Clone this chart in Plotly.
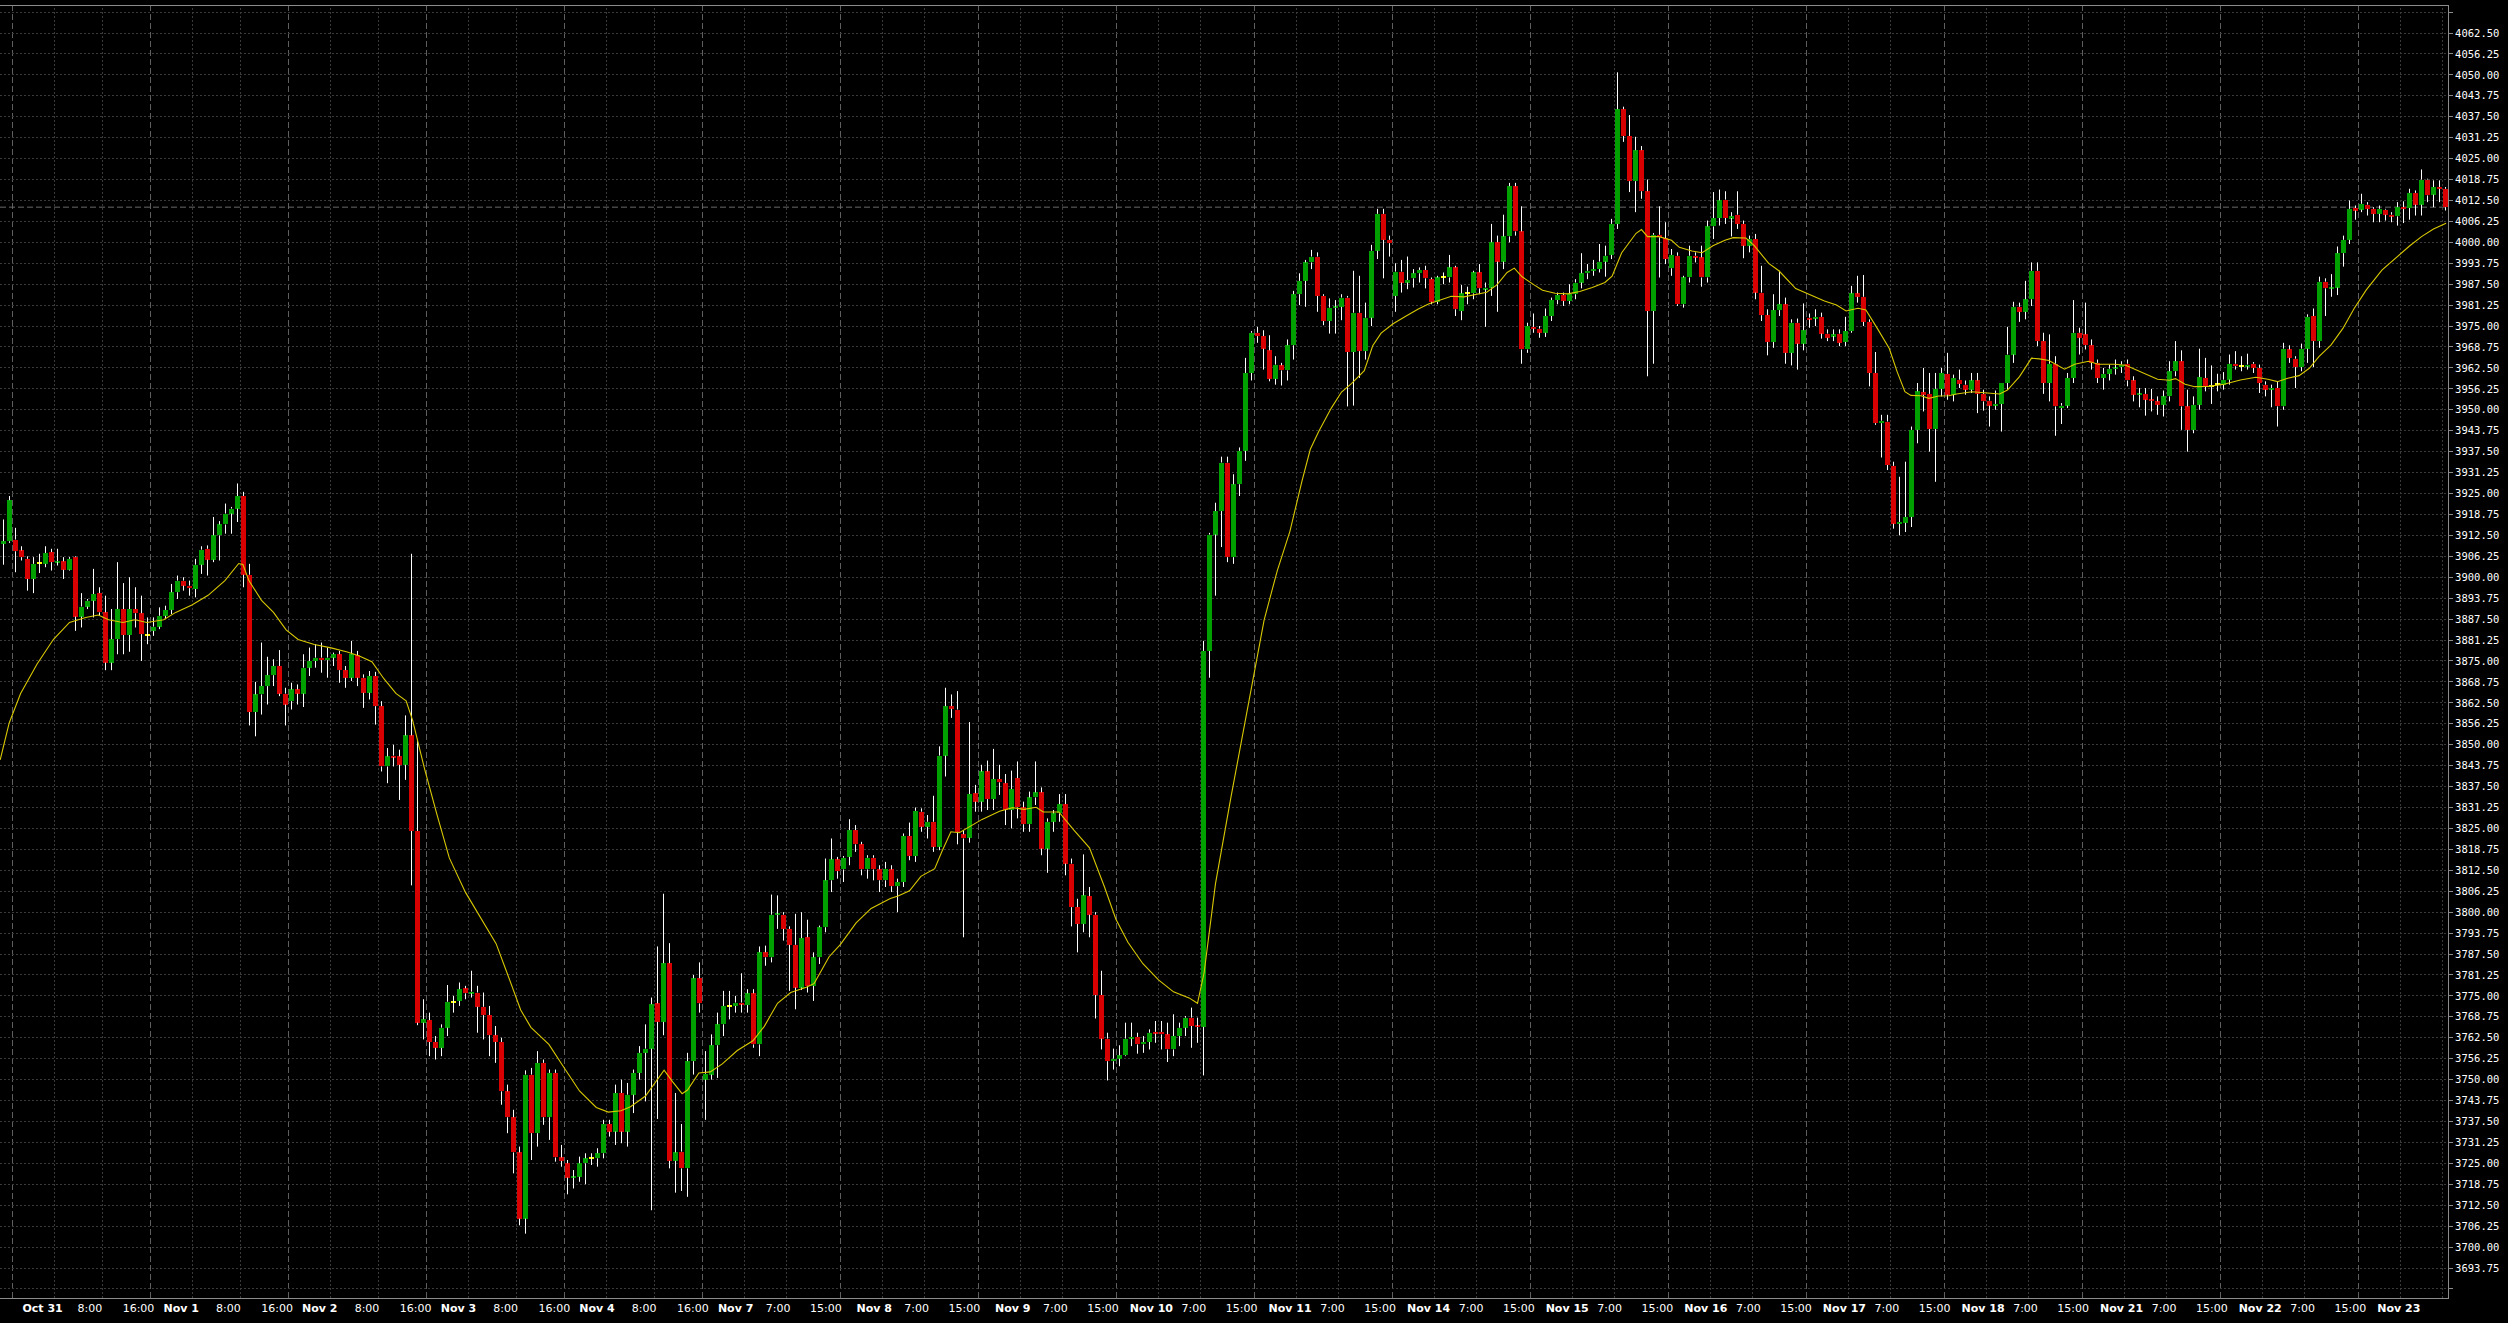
import plotly.graph_objects as go

# ---------------- data (hourly candles) ----------------
opens = [
3910.0,3910.75,3911.25,3908.0,3905.5,3899.5,3904.0,3904.0,3907.5,3904.5,
3904.75,3902.25,3906.0,3888.25,3891.25,3893.0,3895.25,3889.5,3874.5,3881.5,
3890.5,3882.75,3890.5,3889.25,3882.5,3884.0,3885.25,3888.5,3890.25,3895.5,
3899.0,3897.5,3896.5,3903.75,3908.5,3905.25,3912.5,3915.75,3919.0,3920.5,
3924.25,3900.75,3859.75,3865.0,3867.5,3870.75,3873.5,3865.25,3863.0,3866.5,
3865.25,3873.0,3875.0,3876.0,3875.25,3876.0,3877.0,3872.25,3870.0,3876.75,
3870.0,3865.5,3870.5,3861.5,3843.5,3846.75,3846.5,3844.0,3852.75,3824.25,
3767.0,3767.75,3761.25,3759.5,3765.5,3773.0,3773.5,3777.25,3775.75,3776.0,
3771.75,3769.25,3763.25,3761.25,3746.5,3738.75,3728.25,3708.5,3751.5,3734.0,
3755.0,3738.75,3752.0,3726.75,3725.0,3720.75,3721.0,3725.0,3726.5,3726.5,
3728.0,3736.75,3734.5,3746.0,3734.5,3745.5,3752.0,3758.0,3759.25,3772.75,
3767.25,3784.75,3725.75,3728.5,3723.5,3755.5,3780.25,3750.0,3751.5,3760.25,
3766.5,3771.75,3772.0,3773.0,3772.25,3775.75,3760.5,3788.0,3786.5,3799.25,
3799.25,3795.0,3790.25,3777.5,3792.5,3778.0,3786.5,3795.5,3809.5,3815.75,
3812.75,3816.5,3824.5,3820.25,3812.75,3816.25,3812.75,3809.5,3812.75,3807.75,
3809.0,3822.75,3816.75,3830.0,3825.5,3827.0,3819.5,3846.75,3861.5,3860.5,
3823.25,3822.25,3835.5,3833.0,3842.0,3833.75,3839.75,3838.5,3830.5,3840.0,
3831.25,3826.25,3834.25,3835.75,3819.0,3827.0,3829.5,3832.25,3814.5,3801.5,
3796.5,3804.75,3799.25,3775.25,3762.25,3755.5,3756.25,3757.25,3762.25,3762.75,
3760.5,3761.25,3764.25,3764.25,3763.5,3759.0,3763.0,3765.5,3768.5,3766.0,
3765.75,3878.0,3912.75,3919.75,3934.25,3906.0,3927.75,3937.75,3961.0,3973.0,
3972.0,3967.75,3959.25,3963.25,3961.75,3969.25,3984.5,3988.5,3994.0,3995.75,
3984.0,3976.5,3980.5,3980.75,3983.5,3967.25,3979.0,3967.5,3977.5,3997.5,
4008.5,4000.75,3984.0,3991.25,3988.0,3989.25,3990.75,3991.75,3989.0,3982.25,
3989.5,3989.5,3992.5,3979.5,3984.75,3984.75,3991.0,3986.0,3986.5,4000.0,
3994.25,4001.75,4016.75,4003.25,3968.0,3974.75,3974.25,3973.0,3978.0,3982.75,
3984.25,3982.5,3984.5,3988.0,3990.75,3991.5,3992.0,3994.25,3996.25,4005.5,
4039.75,4031.75,4018.25,4027.5,4015.25,3979.5,4002.25,4001.25,3992.25,3996.0,
3981.5,3989.5,3996.0,3995.5,3989.5,4004.75,4007.25,4012.75,4007.25,4008.25,
4005.5,3999.0,4001.0,3985.0,3978.25,3970.25,3979.75,3981.5,3967.0,3976.0,
3969.75,3977.5,3977.25,3977.75,3972.75,3972.0,3972.75,3970.25,3973.5,3984.75,
3983.75,3976.25,3961.0,3946.0,3946.5,3933.25,3916.0,3916.25,3918.0,3944.0,
3955.25,3954.75,3944.25,3956.25,3960.75,3954.5,3959.0,3957.5,3956.0,3958.75,
3954.75,3952.75,3951.25,3951.75,3958.0,3966.5,3980.75,3979.25,3983.0,3991.5,
3970.5,3958.0,3963.75,3950.5,3951.25,3959.5,3973.0,3972.5,3969.25,3964.0,
3959.5,3960.75,3962.25,3962.75,3963.75,3958.75,3954.5,3954.75,3953.0,3952.5,
3951.5,3954.0,3961.5,3964.5,3951.0,3944.0,3951.5,3959.5,3957.0,3957.5,
3957.5,3959.0,3963.75,3963.0,3963.0,3963.75,3962.5,3957.5,3956.0,3956.5,
3951.0,3968.0,3965.25,3962.75,3968.25,3978.0,3970.5,3988.25,3986.25,3986.5,
3996.75,4000.75,4010.25,4009.75,4011.25,4010.0,4008.5,4009.75,4008.25,4007.75,
4010.5,4010.25,4014.75,4011.25,4018.75,4014.25,4016.5,4016.0]

highs = [
3917.25,3924.25,3914.75,3909.25,3906.25,3906.0,3907.0,3909.25,3908.5,3908.5,
3906.0,3906.0,3906.25,3895.25,3893.5,3902.5,3897.0,3894.5,3890.5,3904.5,
3898.25,3900.0,3897.0,3894.5,3888.0,3888.0,3891.0,3891.5,3898.0,3900.5,
3900.0,3899.0,3905.5,3909.25,3909.5,3918.0,3916.75,3922.0,3921.0,3928.0,
3925.5,3904.0,3868.75,3880.5,3876.25,3875.5,3878.25,3867.0,3868.5,3868.0,
3877.0,3879.0,3880.0,3880.5,3879.0,3877.5,3878.0,3873.5,3881.0,3878.0,
3871.0,3872.0,3871.75,3863.0,3849.0,3850.0,3848.5,3858.75,3907.0,3851.5,
3774.0,3770.0,3763.0,3766.5,3778.25,3775.0,3779.0,3778.0,3782.5,3778.0,
3776.0,3772.0,3766.0,3762.5,3748.5,3741.0,3730.0,3752.75,3753.5,3758.5,
3756.0,3753.0,3753.0,3730.5,3726.0,3723.0,3727.0,3728.0,3728.0,3729.5,
3738.0,3738.0,3748.5,3750.0,3749.0,3753.0,3760.0,3766.5,3774.5,3789.75,
3805.5,3790.75,3746.0,3736.75,3758.0,3781.25,3785.0,3758.5,3763.5,3770.0,
3776.5,3776.5,3775.0,3781.75,3777.0,3777.0,3789.75,3790.0,3805.25,3805.0,
3800.0,3795.75,3799.5,3800.0,3797.75,3788.0,3796.0,3816.0,3822.0,3816.5,
3816.75,3827.75,3826.0,3821.0,3817.0,3817.0,3814.0,3815.0,3814.0,3810.0,
3823.5,3826.75,3831.25,3831.0,3829.0,3834.75,3849.5,3867.0,3865.0,3866.0,
3824.5,3856.75,3838.0,3844.0,3845.25,3848.75,3844.0,3841.25,3842.25,3845.0,
3833.0,3836.0,3845.0,3837.25,3828.0,3830.5,3835.25,3835.25,3816.0,3804.0,
3817.25,3807.5,3800.0,3782.5,3764.0,3759.25,3760.25,3767.0,3767.0,3764.0,
3763.0,3765.0,3767.5,3767.5,3767.0,3769.5,3767.0,3769.0,3771.5,3768.5,
3881.0,3913.25,3922.25,3936.0,3936.0,3930.75,3938.75,3965.5,3973.5,3974.75,
3973.75,3972.25,3966.0,3964.0,3971.0,3985.5,3990.75,3994.75,3997.75,3997.0,
3984.5,3983.25,3982.75,3984.5,3984.0,3991.5,3990.0,3982.0,3999.25,4010.0,
4010.0,4002.0,3993.75,3994.75,3995.75,3992.0,3992.5,3993.0,3989.5,3990.0,
3991.0,3996.25,3993.0,3987.25,3986.75,3991.5,3993.5,3988.0,4005.5,4002.0,
4008.25,4017.75,4017.75,4010.75,3976.0,3978.75,3975.0,3980.25,3983.5,3985.0,
3985.0,3987.5,3989.0,3996.75,3993.5,3994.75,3999.5,3999.0,4007.0,4050.75,
4040.5,4038.0,4031.5,4028.75,4018.75,4002.75,4010.75,4006.0,3998.0,3997.0,
3990.0,3999.0,3997.0,3999.0,4006.5,4015.0,4015.75,4015.25,4009.0,4015.25,
4006.5,4002.0,4002.5,3993.0,3980.0,3984.5,3991.5,3983.5,3977.0,3977.25,
3981.75,3978.75,3980.0,3979.0,3974.0,3974.0,3974.0,3977.75,3987.0,3990.0,
3990.25,3977.0,3967.25,3948.5,3948.5,3934.5,3930.0,3934.5,3945.0,3958.0,
3962.5,3961.0,3961.0,3962.5,3967.0,3960.5,3962.0,3958.75,3961.0,3961.0,
3956.0,3954.0,3955.75,3958.0,3974.75,3982.25,3982.0,3988.5,3994.0,3994.0,
3973.0,3972.5,3966.0,3952.0,3961.0,3982.75,3974.5,3982.0,3971.0,3965.0,
3962.5,3963.5,3965.0,3964.5,3965.0,3960.0,3956.5,3956.5,3956.25,3954.0,
3955.75,3964.5,3970.5,3967.75,3956.0,3954.0,3968.25,3965.5,3963.25,3960.75,
3961.25,3966.5,3967.5,3966.0,3966.75,3964.25,3963.5,3958.5,3957.5,3958.5,
3970.0,3969.25,3966.0,3969.75,3978.5,3980.25,3989.75,3989.25,3990.5,3998.75,
4002.0,4012.5,4011.0,4014.5,4012.0,4010.5,4011.0,4010.0,4009.0,4012.0,
4012.25,4016.0,4015.5,4021.75,4019.0,4018.5,4018.5,4016.5]

lows = [
3903.75,3910.25,3901.5,3905.0,3896.0,3895.25,3901.25,3903.0,3902.0,3903.5,
3899.5,3902.0,3884.0,3885.0,3890.5,3888.0,3888.5,3872.25,3872.25,3877.0,
3877.0,3877.75,3885.0,3875.0,3880.0,3882.5,3884.5,3887.5,3889.0,3893.5,
3896.0,3894.5,3894.0,3901.0,3900.5,3904.5,3905.0,3913.0,3913.0,3916.5,
3897.0,3855.75,3852.5,3859.0,3862.0,3867.5,3864.5,3855.75,3860.5,3862.0,
3861.25,3870.5,3873.0,3871.5,3870.0,3873.5,3868.5,3867.0,3869.0,3867.5,
3861.0,3863.5,3856.0,3842.0,3838.5,3843.5,3833.5,3839.5,3808.0,3766.25,
3762.0,3757.0,3756.0,3757.0,3763.0,3770.0,3772.0,3774.0,3774.5,3764.0,
3762.0,3757.0,3755.0,3742.5,3734.0,3722.0,3706.5,3704.0,3726.0,3730.0,
3736.5,3732.0,3725.5,3724.0,3715.75,3717.5,3719.5,3718.75,3724.5,3724.0,
3726.5,3733.0,3730.5,3731.0,3730.0,3740.0,3750.0,3743.5,3711.0,3738.25,
3763.25,3723.5,3716.25,3716.75,3715.0,3751.5,3770.0,3738.0,3750.0,3750.5,
3763.0,3768.0,3770.0,3770.0,3770.0,3759.5,3757.0,3784.0,3785.0,3795.0,
3791.5,3776.5,3771.0,3776.75,3776.0,3773.5,3784.5,3794.0,3806.0,3810.0,
3809.0,3814.0,3818.0,3811.0,3810.0,3809.5,3806.0,3807.5,3806.0,3800.0,
3807.5,3815.5,3815.0,3824.0,3822.0,3818.0,3818.5,3840.5,3858.0,3820.25,
3792.5,3820.75,3830.0,3830.0,3830.5,3830.5,3835.0,3826.0,3825.0,3828.0,
3824.0,3824.0,3832.0,3817.0,3811.75,3824.0,3827.0,3811.0,3795.75,3788.0,
3794.0,3792.5,3768.25,3759.0,3749.75,3753.0,3754.0,3757.0,3760.0,3757.75,
3758.0,3759.0,3761.0,3759.0,3755.25,3757.0,3760.0,3763.0,3759.5,3761.0,
3751.25,3870.0,3894.5,3909.0,3904.5,3904.0,3924.25,3934.75,3958.75,3970.0,
3962.0,3958.5,3957.5,3957.25,3958.75,3965.0,3981.25,3980.75,3992.0,3979.25,
3975.25,3972.75,3972.75,3976.75,3951.0,3951.25,3959.5,3965.0,3975.0,3995.0,
3989.25,3995.75,3979.25,3985.0,3986.0,3986.5,3988.0,3986.25,3981.5,3981.5,
3987.5,3988.0,3978.0,3976.75,3981.5,3983.0,3984.5,3974.75,3984.0,3979.25,
3992.0,4000.0,4002.0,3963.75,3967.0,3973.0,3971.5,3971.75,3976.5,3981.5,
3981.0,3981.5,3983.0,3986.25,3989.0,3990.0,3991.0,3989.75,3995.0,4004.0,
4030.0,4015.0,4009.0,4013.0,3960.0,3963.75,3989.5,3993.5,3990.0,3981.0,
3980.5,3988.0,3994.0,3986.75,3988.0,4001.0,4005.0,4005.5,4001.75,4004.0,
3995.25,3997.0,3983.0,3976.5,3966.25,3968.5,3978.0,3963.75,3963.25,3962.0,
3967.75,3974.5,3975.0,3971.25,3970.5,3970.5,3969.0,3969.0,3973.0,3982.0,
3975.0,3957.0,3945.5,3935.75,3932.0,3914.5,3912.5,3913.5,3915.0,3940.0,
3949.5,3937.5,3928.5,3954.0,3953.0,3952.5,3956.5,3954.5,3955.0,3949.0,
3949.75,3945.0,3950.0,3943.5,3956.0,3964.0,3976.25,3977.0,3981.0,3969.0,
3954.75,3952.5,3942.25,3945.75,3950.5,3958.0,3966.5,3968.0,3962.0,3958.0,
3956.0,3958.75,3960.5,3961.0,3957.0,3952.5,3950.75,3948.25,3949.5,3948.5,
3948.0,3952.5,3960.0,3944.0,3937.5,3943.0,3950.0,3955.5,3951.75,3955.5,
3956.0,3957.5,3962.0,3961.5,3962.0,3961.0,3955.0,3954.0,3950.75,3945.0,
3950.0,3964.0,3956.5,3961.5,3964.0,3962.75,3968.5,3978.0,3983.75,3984.25,
3992.75,3999.5,4006.75,4009.0,4008.0,4006.0,4006.0,4006.5,4006.0,4005.0,
4005.75,4006.75,4008.0,4008.0,4012.0,4010.5,4012.0,4009.5]

closes = [
3910.75,3923.0,3907.75,3906.0,3899.5,3904.0,3904.0,3907.25,3904.5,3904.75,
3902.25,3905.5,3888.25,3891.25,3893.0,3895.0,3889.5,3874.5,3881.5,3890.5,
3882.75,3890.5,3889.25,3883.0,3882.5,3885.25,3888.5,3890.25,3895.5,3899.0,
3897.5,3896.75,3903.75,3908.25,3905.25,3912.5,3915.75,3919.0,3920.5,3924.25,
3900.75,3859.75,3865.0,3867.5,3870.75,3873.5,3865.25,3862.0,3866.5,3865.25,
3873.0,3875.0,3876.0,3875.25,3876.0,3877.0,3872.25,3870.0,3877.0,3870.0,
3865.5,3870.5,3861.5,3843.5,3846.5,3846.25,3844.0,3852.75,3824.25,3767.0,
3768.0,3761.25,3759.5,3765.5,3773.25,3773.0,3777.0,3775.75,3776.25,3771.75,
3769.25,3763.25,3761.25,3746.5,3738.75,3728.25,3708.5,3751.5,3734.0,3755.0,
3738.75,3752.0,3726.75,3725.75,3720.75,3721.0,3725.0,3726.5,3726.5,3728.0,
3736.75,3734.5,3746.0,3734.5,3745.5,3752.0,3758.0,3759.25,3772.5,3767.25,
3784.75,3725.75,3728.25,3723.5,3755.5,3780.25,3772.75,3751.75,3760.25,3766.5,
3772.0,3771.75,3773.0,3772.5,3775.75,3760.5,3788.0,3786.5,3799.25,3799.5,
3795.0,3790.25,3777.5,3792.25,3778.0,3786.5,3795.5,3809.5,3815.75,3812.25,
3816.25,3824.5,3820.25,3812.75,3816.25,3812.75,3809.5,3813.0,3807.75,3809.0,
3822.75,3816.75,3830.25,3825.5,3827.0,3819.5,3846.75,3861.5,3860.75,3824.0,
3822.0,3835.25,3833.0,3842.0,3833.75,3839.75,3838.75,3830.5,3836.75,3831.25,
3826.25,3834.25,3835.75,3819.0,3827.0,3829.5,3832.25,3814.5,3801.5,3796.5,
3805.0,3799.25,3775.25,3762.25,3755.5,3756.25,3757.25,3762.25,3762.75,3760.5,
3761.25,3764.0,3763.75,3763.5,3759.0,3763.0,3765.5,3768.5,3766.0,3765.75,
3878.0,3912.75,3919.75,3934.25,3906.0,3927.75,3937.75,3961.0,3973.0,3972.0,
3968.25,3959.25,3963.5,3961.75,3969.25,3984.5,3988.5,3994.0,3995.75,3984.0,
3976.5,3980.5,3980.75,3983.5,3967.25,3979.0,3967.5,3977.5,3997.5,4008.5,
4000.75,3999.75,3991.25,3988.0,3988.75,3990.75,3991.75,3989.25,3982.25,3989.5,
3989.5,3992.5,3980.0,3984.75,3984.75,3991.0,3986.25,3986.5,4000.0,3994.25,
4001.75,4016.75,4003.25,3968.0,3975.0,3974.25,3973.0,3978.0,3982.75,3984.25,
3982.5,3984.5,3988.0,3990.75,3991.5,3992.0,3994.25,3996.0,4005.5,4039.75,
4031.75,4018.25,4027.5,4015.25,3979.5,4002.25,4001.5,3995.0,3996.25,3981.5,
3989.5,3996.0,3995.5,3989.5,4004.75,4007.25,4012.5,4007.25,4007.75,4005.5,
3999.0,4001.0,3985.0,3978.25,3970.25,3979.75,3981.5,3967.0,3976.0,3969.75,
3973.75,3977.0,3977.75,3972.75,3971.5,3972.5,3970.0,3973.5,3984.75,3983.75,
3976.25,3961.0,3946.0,3946.75,3933.5,3916.0,3916.5,3918.0,3944.0,3955.5,
3954.5,3944.25,3956.25,3961.0,3954.5,3959.5,3957.75,3956.0,3958.75,3954.75,
3952.5,3951.25,3951.75,3958.0,3966.5,3980.75,3979.25,3983.0,3991.5,3970.5,
3958.0,3963.75,3951.0,3951.25,3959.5,3973.0,3971.5,3969.25,3964.0,3959.5,
3960.75,3962.25,3962.5,3963.5,3958.75,3954.5,3954.75,3953.0,3952.75,3951.5,
3954.0,3961.5,3964.5,3951.0,3944.0,3951.5,3959.75,3957.0,3957.0,3957.5,
3959.0,3963.75,3963.0,3963.0,3963.5,3962.5,3958.0,3956.0,3956.5,3951.0,
3968.25,3965.5,3962.75,3968.25,3977.75,3970.5,3988.25,3986.25,3986.5,3996.75,
4000.75,4010.0,4009.5,4011.5,4010.0,4008.5,4010.0,4008.25,4007.75,4010.5,
4010.0,4014.75,4011.25,4018.75,4014.0,4016.5,4016.0,4010.5]

# moving average (yellow line), read at bar positions
ma_x = [-0.55,0.95,2.85,5.6,8.3,11,13.7,15.8,17.5,19.9,21.9,23.9,26.7,28.7,31.4,34.1,36.9,39.2,39.9,40.9,
43,45,47.1,49.1,51.8,54.6,57.3,59.3,61.4,63.4,65.4,67.1,68.2,70.2,72.2,74.3,77,79.7,82.1,84.1,
86.2,87.9,89.9,90.9,93.3,96,98.8,100.8,102.9,104.5,107,108.9,110.1,111.5,113.1,114,115.9,117.8,119.8,122.3,
124.9,126.8,129,131.2,133.8,135.1,137.6,139.5,142.1,144.6,147.8,149.1,151,152.9,155.2,156.4,157.9,159.3,161.2,163.1,
166,168.2,170.1,172.1,173.3,175.9,178.4,181,183.5,185.4,187.4,189.9,192.5,195,197.6,199,200.1,202,204.5,210.1,
212.3,214.4,216.4,217.8,219.2,221.3,223,224.7,226.8,228.2,229.6,231.6,233.7,235.8,237.5,239.2,241.3,243.4,245.5,247.2,
248.9,250.6,251.8,253.1,255.1,256.5,258.6,260.7,262.7,264.8,266.9,268.1,269.7,271,272.1,273,274,275.9,278,279.3,
281.4,283.1,284.9,286.9,288.3,290.4,291.8,294.2,295.9,298.7,300.8,303.5,305.5,307.1,309.1,310.4,312.3,314.3,315.6,316.9,
317.9,319.6,320.9,322.5,324.2,325.5,328.1,330.7,332.7,334,336,338,339.3,340.9,343.5,345.2,347.5,349.1,351.8,353.7,
356.4,359,361,362,363.6,365.2,367.5,370.1,372.8,375.4,377.4,379,380.7,382.6,384.3,385.9,387.9,389.9,391.8,393.8,
396.4,399.1,401,403,405,407.1]
ma_y = [3845.5,3856.5,3865.3,3874.1,3881.4,3886.5,3888.0,3888.7,3887.3,3886.5,3887.3,3886.5,3887.3,3889.5,3891.7,3894.6,3899.0,3904.1,3903.8,3899.0,
3893.1,3889.5,3884.3,3881.4,3879.9,3878.9,3877.7,3876.5,3874.8,3869.7,3865.3,3863.1,3857.2,3842.6,3829.4,3816.2,3805.9,3797.9,3790.6,3781.0,
3770.8,3765.6,3762.0,3760.5,3753.9,3746.6,3741.7,3740.3,3740.7,3741.9,3745.1,3749.9,3752.8,3749.4,3745.8,3746.9,3752.0,3752.3,3754.7,3758.7,
3761.6,3765.9,3772.8,3776.0,3777.6,3778.7,3786.7,3790.4,3796.8,3801.1,3804.1,3804.8,3806.4,3810.7,3813.0,3818.1,3824.0,3823.7,3825.6,3827.7,
3830.1,3831.2,3830.7,3831.3,3829.9,3829.9,3824.5,3819.2,3807.5,3797.9,3791.0,3784.6,3779.8,3776.2,3774.4,3772.8,3781.9,3808.5,3833.6,3887.2,
3902.0,3913.7,3928.6,3938.2,3943.5,3950.5,3955.3,3957.9,3961.7,3969.1,3972.9,3975.7,3977.9,3980.1,3981.6,3982.7,3983.9,3983.7,3984.6,3985.1,
3987.3,3991.0,3992.3,3989.7,3987.3,3985.7,3984.8,3984.6,3985.3,3986.5,3988.0,3989.9,3996.9,4000.1,4002.7,4003.8,4001.7,4001.7,4000.6,3998.5,
3997.4,3996.9,3999.0,4000.6,4001.4,4001.3,3999.0,3993.7,3991.5,3986.2,3984.6,3982.5,3981.3,3979.5,3980.3,3979.8,3974.3,3968.3,3961.4,3955.4,
3954.3,3954.2,3953.4,3954.1,3954.2,3954.7,3955.4,3954.9,3954.7,3955.9,3959.9,3965.4,3965.2,3964.7,3962.1,3963.6,3964.5,3963.6,3963.6,3963.3,
3961.2,3959.1,3958.8,3959.3,3957.6,3956.9,3957.0,3957.6,3958.9,3959.7,3959.1,3958.4,3959.4,3960.2,3962.4,3965.9,3969.3,3974.3,3980.3,3985.8,
3991.7,3995.9,3998.9,4001.7,4004.0,4005.7]

day_names = ["Oct 31","Nov 1","Nov 2","Nov 3","Nov 4","Nov 7","Nov 8","Nov 9","Nov 10","Nov 11",
             "Nov 14","Nov 15","Nov 16","Nov 17","Nov 18","Nov 21","Nov 22","Nov 23"]
times_before_dst = ["8:00", "16:00"]
times_after_dst = ["7:00", "15:00"]
ytick_vals = [3687.5 + 6.25 * k for k in range(62)]
ytick_text = ["" if (v < 3690 or v > 4065) else f"{v:.2f}" for v in ytick_vals]

# ---------------- geometry helpers (pixel layout of the terminal) ----------------
PLOT_W = 2448.0
BAR = 6.0
X0 = 3.5
def px2i(px):
    return (px - X0) / BAR

tick_pos, tick_text = [], []
for k, name in enumerate(day_names):
    c = 42.6 + 138.6 * k
    tick_pos.append(px2i(c)); tick_text.append(f"<b>{name}</b>")
    if k < len(day_names) - 1:
        if k < 5:
            offs, names = (47.2, 95.9), times_before_dst
        else:
            offs, names = (42.5, 90.2), times_after_dst
        for o, t in zip(offs, names):
            tick_pos.append(px2i(c + o)); tick_text.append(t)

n = len(closes)
idx = list(range(n))
GREEN, RED, DOJI = "#00a000", "#d80000", "#ffff00"
body_base, body_h, body_col = [], [], []
for o, c in zip(opens, closes):
    body_base.append(min(o, c))
    body_h.append(max(abs(c - o), 0.35))
    body_col.append(GREEN if c > o else (RED if c < o else DOJI))

# wicks drawn only outside the bodies (bars sit below scatter layers in plotly)
wx, wy = [], []
for i, h, l, o, c in zip(idx, highs, lows, opens, closes):
    top, bot = max(o, c), min(o, c)
    if h > top:
        wx += [i, i, None]; wy += [top, h, None]
    if l < bot:
        wx += [i, i, None]; wy += [l, bot, None]

fig = go.Figure()
fig.add_trace(go.Bar(x=idx, y=body_h, base=body_base, width=5.0 / BAR,
                     marker=dict(color=body_col, line=dict(width=0))))
fig.add_trace(go.Scatter(x=wx, y=wy, mode="lines", line=dict(color="#ffffff", width=1),
                         hoverinfo="skip"))
fig.add_trace(go.Scatter(x=ma_x, y=ma_y, mode="lines",
                         line=dict(color="#d8c800", width=1.1), hoverinfo="skip"))

shapes = []
last_i = (PLOT_W - X0) / BAR
for k in range(len(day_names)):
    s = 1.5 + 23 * k
    shapes.append(dict(type="line", xref="x", yref="paper", x0=s, x1=s, y0=0, y1=1,
                       line=dict(color="#5e5e5e", width=1, dash="6px,3px"), layer="below"))
    for off in ((7, 15) if k < 5 else (7, 14)):
        g = s + off
        if g < last_i - 0.2:
            shapes.append(dict(type="line", xref="x", yref="paper", x0=g, x1=g, y0=0, y1=1,
                               line=dict(color="#3a3a3a", width=1, dash="2px,2px"), layer="below"))
shapes.append(dict(type="line", xref="paper", yref="y", x0=0, x1=1, y0=closes[-1], y1=closes[-1],
                   line=dict(color="#6a6a6a", width=1, dash="6px,3px"), layer="below"))

Y_TOP = 4062.5 + 27 / 3.34915
Y_BOT = 3693.75 - 30 / 3.34915

fig.update_layout(width=2508, height=1323, margin=dict(l=0, r=60, t=6, b=25),
                  paper_bgcolor="#000000", plot_bgcolor="#000000", showlegend=False,
                  shapes=shapes, bargap=0)
fig.update_xaxes(range=[-X0 / BAR, last_i], tickmode="array", tickvals=tick_pos, ticktext=tick_text,
                 tickangle=0, tickfont=dict(family="DejaVu Sans", size=11, color="#ffffff"),
                 showgrid=False, zeroline=False, showline=True, linecolor="#8c8c8c", linewidth=1,
                 mirror=True, ticks="")
fig.update_yaxes(side="right", range=[Y_BOT, Y_TOP], tickmode="array", tickvals=ytick_vals,
                 ticktext=ytick_text, tickfont=dict(family="DejaVu Sans Mono", size=10.5, color="#ffffff"),
                 ticks="outside", ticklen=4, tickcolor="#8c8c8c", showgrid=True, gridcolor="#3a3a3a",
                 griddash="2px,2px", gridwidth=1, zeroline=False, showline=True, linecolor="#8c8c8c",
                 linewidth=1, mirror=True)

fig.write_html("out.html", config={"displayModeBar": False},
               post_script="document.body.style.margin='0px';document.body.style.background='#000';")
